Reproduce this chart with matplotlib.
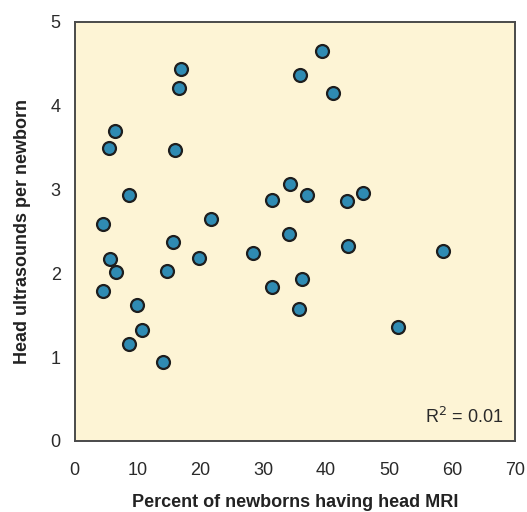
import matplotlib
matplotlib.use("Agg")
import matplotlib.pyplot as plt

plt.rcParams["font.family"] = ["Liberation Sans", "DejaVu Sans"]

# percent of newborns having head MRI
mri_pct = [17.0, 16.6, 6.4, 5.5, 15.9, 8.6, 4.5, 21.7, 15.6, 31.4, 34.3, 34.1,
           39.4, 35.9, 41.1, 37.0, 43.3, 45.9, 43.5, 58.6, 5.7, 6.6, 4.6, 14.7,
           19.8, 28.4, 31.4, 9.9, 10.8, 8.7, 14.0, 36.2, 35.7, 51.4]
# head ultrasounds per newborn
us_per_newborn = [4.44, 4.21, 3.70, 3.49, 3.47, 2.93, 2.59, 2.65, 2.37, 2.87,
                  3.06, 2.47, 4.65, 4.36, 4.15, 2.93, 2.86, 2.96, 2.32, 2.27,
                  2.17, 2.01, 1.79, 2.03, 2.18, 2.24, 1.83, 1.62, 1.32, 1.16,
                  0.94, 1.93, 1.57, 1.36]

x_ticks = [0, 10, 20, 30, 40, 50, 60, 70]
y_ticks = [0, 1, 2, 3, 4, 5]

fig = plt.figure(figsize=(5.27, 5.12), dpi=100)
ax = fig.add_axes([0.1414, 0.139, 0.8356, 0.8186])
ax.set_facecolor("#fdf4d5")

ax.plot(mri_pct, us_per_newborn, linestyle="none", marker="o", markersize=9.3,
        markerfacecolor="#2f8bb3", markeredgecolor="#1e1e1e", markeredgewidth=1.6)

ax.set_xlim(0, 70)
ax.set_ylim(0, 5)
ax.set_xticks(x_ticks)
ax.set_yticks(y_ticks)
ax.tick_params(axis="x", length=0, pad=15, labelsize=13, colors="#2a2a2a")
ax.tick_params(axis="y", length=0, pad=10, labelsize=13, colors="#2a2a2a")
for s in ax.spines.values():
    s.set_color("#4a4a4a")
    s.set_linewidth(1.4)

ax.set_xlabel("Percent of newborns having head MRI", fontsize=13,
              fontweight="bold", labelpad=11, color="#222222")
ax.set_ylabel("Head ultrasounds per newborn", fontsize=13,
              fontweight="bold", labelpad=14, color="#222222")

ax.text(0.973, 0.033, "R$^2$ = 0.01", transform=ax.transAxes, ha="right",
        va="bottom", fontsize=13, color="#2a2a2a")

fig.savefig("out.png", dpi=100)
